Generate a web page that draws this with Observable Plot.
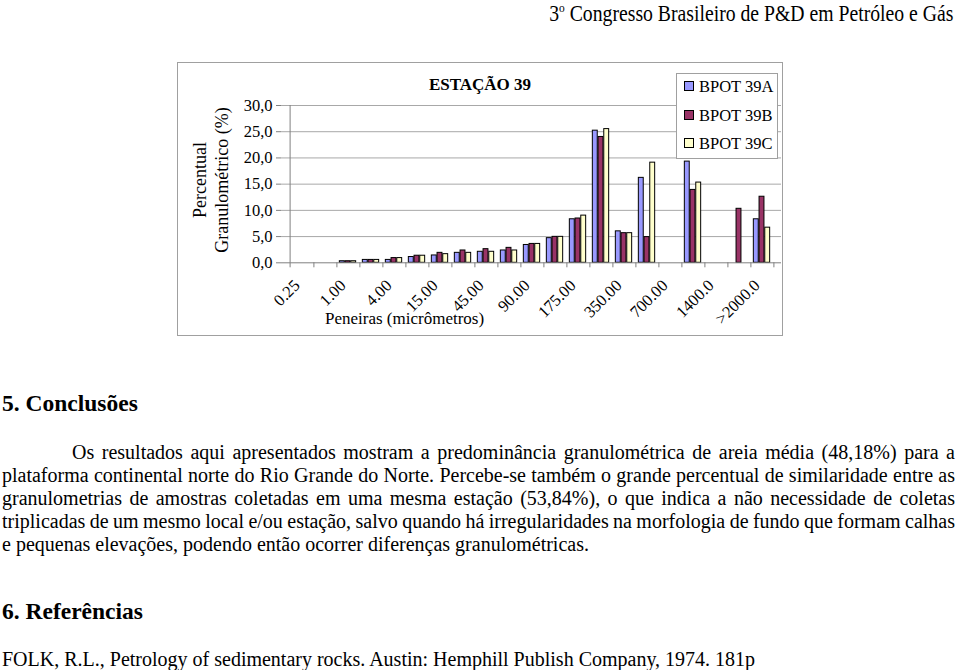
<!DOCTYPE html>
<html>
<head>
<meta charset="utf-8">
<script src="https://cdn.jsdelivr.net/npm/d3@7"></script>
<script src="https://cdn.jsdelivr.net/npm/@observablehq/plot@0.6"></script>
<style>
  html, body { margin: 0; padding: 0; background: #fff; }
  body { width: 959px; height: 670px; position: relative; overflow: hidden; font-family: "Liberation Serif", "Times New Roman", serif; color: #000; }
  .abs { position: absolute; }
  #header { right: 6px; top: 1px; font-size: 22.5px; line-height: 26px; white-space: nowrap; transform: scaleX(0.876); transform-origin: 100% 50%; }
  #header sup { font-size: 13px; vertical-align: 9px; line-height: 0; }
  #box { left: 177px; top: 62px; width: 604px; height: 272px; border: 1px solid #a0a0a0; }
  #chart { position: absolute; left: 0; top: 0; }
  #title { left: 0; width: 604px; top: 12px; text-align: center; font-weight: bold; font-size: 17px; }
  #legend { left: 498px; top: 10px; width: 100px; height: 84px; border: 1px solid #a0a0a0; background: #fff; font-size: 16.5px; }
  .lg { position: absolute; left: 7px; white-space: nowrap; }
  .sw { display: inline-block; width: 8px; height: 8px; border: 1px solid #000; margin-right: 5px; vertical-align: 1px; }
  #ylab { left: 33px; top: 117px; font-size: 18px; line-height: 22px; text-align: center; transform: translate(-50%, -50%) rotate(-90deg); transform-origin: 50% 50%; white-space: nowrap; position: absolute; }
  #xlab { left: 147px; top: 246px; font-size: 17px; white-space: nowrap; }
  h2 { position: absolute; margin: 0; font-size: 23.5px; line-height: 27px; font-weight: bold; left: 2px; }
  #body { left: 2px; top: 441px; width: 953px; font-size: 20px; line-height: 23px; }
  .jl { text-align: justify; text-align-last: justify; white-space: nowrap; word-spacing: -1.3px; }
  .ll { text-align: left; }
  #ref { left: 2px; top: 648px; font-size: 20px; line-height: 23px; white-space: nowrap; }
</style>
</head>
<body>
<div id="header" class="abs">3<sup>o</sup> Congresso Brasileiro de P&amp;D em Petróleo e Gás</div>

<div id="box" class="abs">
  <div id="chart"></div>
  <div id="title" class="abs">ESTAÇÃO 39</div>
  <div id="ylab">Percentual<br>Granulométrico (%)</div>
  <div id="xlab" class="abs">Peneiras (micrômetros)</div>
  <div id="legend" class="abs"></div>
</div>

<h2 style="top:390px">5. Conclusões</h2>
<div id="body" class="abs">
  <div class="jl" style="text-indent:70px">Os resultados aqui apresentados mostram a predominância granulométrica de areia média (48,18%) para a</div>
  <div class="jl">plataforma continental norte do Rio Grande do Norte. Percebe-se também o grande percentual de similaridade entre as</div>
  <div class="jl">granulometrias de amostras coletadas em uma mesma estação (53,84%), o que indica a não necessidade de coletas</div>
  <div class="jl">triplicadas de um mesmo local e/ou estação, salvo quando há irregularidades na morfologia de fundo que formam calhas</div>
  <div class="ll">e pequenas elevações, podendo então ocorrer diferenças granulométricas.</div>
</div>
<h2 style="top:598px">6. Referências</h2>
<div id="ref" class="abs">FOLK, R.L., Petrology of sedimentary rocks. Austin: Hemphill Publish Company, 1974. 181p</div>

<script>
// ---- data ----
const categories = ["0.25","0.50","1.00","2.00","4.00","8.00","15.00","30.00","45.00","63.00","90.00","125.00","175.00","250.00","350.00","500.00","700.00","1000.0","1400.0","2000.0",">2000.0"];
const tickLabels = ["0.25","1.00","4.00","15.00","45.00","90.00","175.00","350.00","700.00","1400.0",">2000.0"];
const seriesNames = ["BPOT 39A","BPOT 39B","BPOT 39C"];
const seriesColors = ["#9999FF","#993366","#FFFFCC"];
const bpot39A = [0,0,0.3,0.55,0.55,1.1,1.4,1.9,2.1,2.35,3.4,4.7,8.3,25.2,6.0,16.2,0,19.3,0,0,8.3];
const bpot39B = [0,0,0.3,0.55,0.9,1.35,1.9,2.35,2.6,2.85,3.6,4.95,8.45,24.0,5.65,4.9,0,13.9,0,10.3,12.6];
const bpot39C = [0,0,0.3,0.55,0.9,1.35,1.65,1.9,2.1,2.35,3.6,4.95,9.0,25.5,5.65,19.1,0,15.3,0,0,6.7];
const yTicks = [0,5,10,15,20,25,30];

// ---- layout ----
const W = 604, H = 272, mL = 103, mR = 1, mT = 42, mB = 72.7;
const bw = (W - mL - mR) / categories.length;
const barW = bw * 0.24;
const gap = (bw - 3 * barW) / 2;

const seriesData = [bpot39A, bpot39B, bpot39C].map((vals, s) =>
  vals.map((v, i) => ({cat: categories[i], value: v, series: seriesNames[s]})).filter(d => d.value > 0));

const fmt = d => d.toFixed(1).replace(".", ",");

const marks = [
  Plot.ruleY(yTicks.filter(d => d > 0), {stroke: "#a8a8a8", strokeWidth: 1}),
  ...seriesData.map((data, s) => Plot.barY(data, {
    x: "cat", y: "value", fill: seriesColors[s], stroke: "#000", strokeWidth: 1,
    insetLeft: gap + s * barW, insetRight: bw - gap - (s + 1) * barW
  })),
  Plot.ruleY([0], {stroke: "#808080"}),
  Plot.ruleX([categories[0]], {y1: 0, y2: 30, dx: -bw / 2, stroke: "#808080"}),
  Plot.ruleX(categories, {y1: 0, y2: 0, insetBottom: -5, dx: bw / 2, stroke: "#808080"}),
  Plot.ruleX([categories[0]], {y1: 0, y2: 0, insetBottom: -5, dx: -bw / 2, stroke: "#808080"}),
  Plot.axisY({ticks: yTicks, tickSize: 5, tickPadding: 4, tickFormat: fmt, fontSize: 16.5, stroke: "#808080", label: null}),
  Plot.axisX({ticks: tickLabels, tickSize: 0, tickPadding: 20, dx: -5, tickRotate: -45, fontSize: 16.5, label: null})
];

const chart = Plot.plot({
  width: W, height: H,
  marginLeft: mL, marginRight: mR, marginTop: mT, marginBottom: mB,
  style: {fontFamily: "Liberation Serif, Times New Roman, serif", fontSize: "16.5px", background: "transparent", color: "#000"},
  x: {type: "band", domain: categories, padding: 0, align: 0.5},
  y: {domain: [0, 30]},
  marks
});
document.getElementById("chart").appendChild(chart);

// legend
const lg = document.getElementById("legend");
seriesNames.forEach((n, s) => {
  const d = document.createElement("div");
  d.className = "lg";
  d.style.top = (3 + s * 28.5) + "px";
  d.innerHTML = `<span class="sw" style="background:${seriesColors[s]}"></span>${n}`;
  lg.appendChild(d);
});
</script>
</body>
</html>
